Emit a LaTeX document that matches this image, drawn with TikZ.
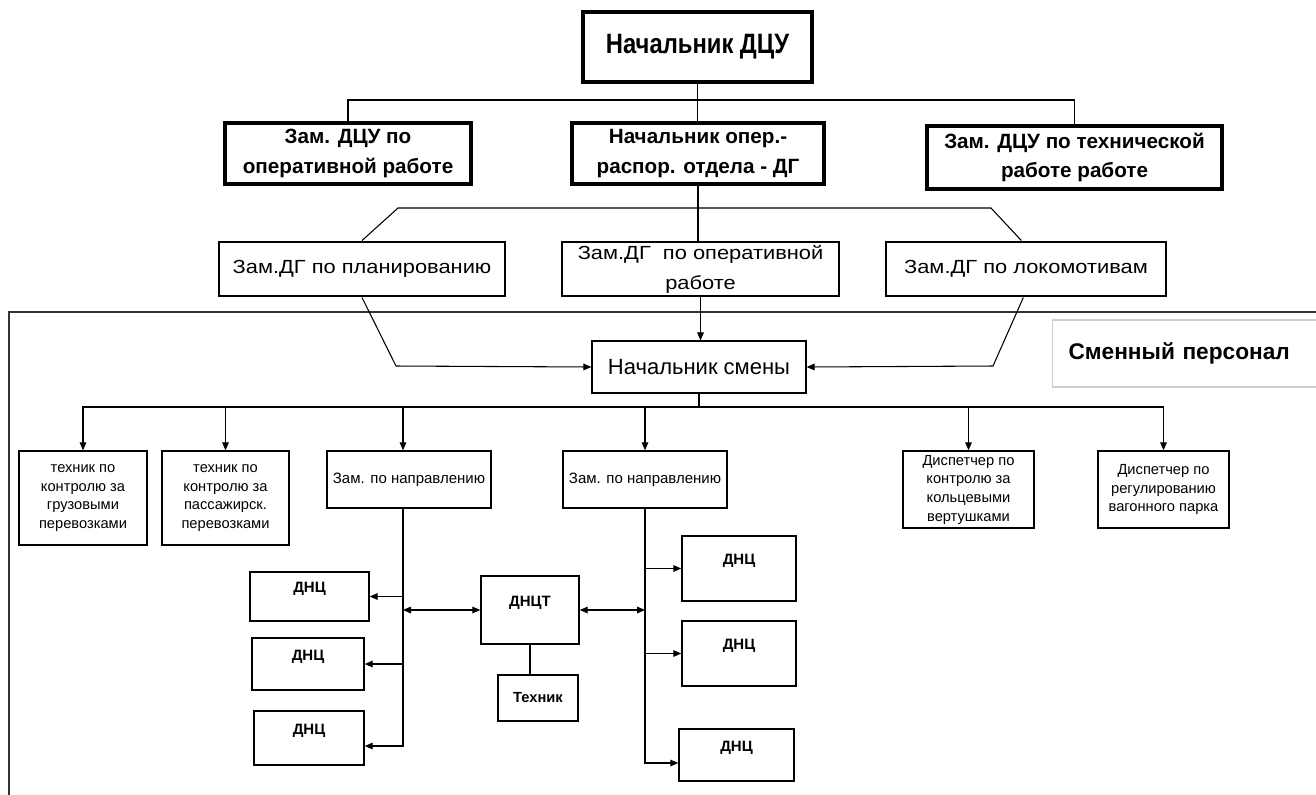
\documentclass[tikz,border=0pt]{standalone}
\usepackage{fontspec}
\setmainfont{Liberation Sans}
\newfontfamily\condf{Liberation Sans}[FakeStretch=0.85]
\newfontfamily\widef{Liberation Sans}[FakeStretch=1.15]
\usetikzlibrary{arrows.meta}
\newcommand\obox[7]{\node[#1, minimum width={(#5-#3)*0.75pt}, minimum height={(#6-#4)*0.75pt}] (#2) at ({(#3+#5)/2},{(#4+#6)/2}) {#7};}
\tikzset{
  base/.style={draw, fill=white, align=center, inner sep=1pt},
  heavy/.style={base, line width=3pt},
  medbox/.style={base, line width=2.2pt},
  thinbox/.style={base, line width=0.9pt},
  lowbox/.style={base, line width=1.1pt},
  conn/.style={line width=0.8pt},
  arr/.style={conn, -{Triangle[length=6pt,width=5pt]}},
  darr/.style={conn, {Triangle[length=6pt,width=5pt]}-{Triangle[length=6pt,width=5pt]}},
  toptxt/.style={font={\condf\bfseries\fontsize{21pt}{24pt}\selectfont}},
  rowtxt/.style={font={\bfseries\fontsize{15.5pt}{22pt}\selectfont}},
  dgtxt/.style={font={\widef\fontsize{14.25pt}{22.5pt}\selectfont}},
  nstxt/.style={font={\fontsize{16.5pt}{20pt}\selectfont}},
  smalltxt/.style={font={\fontsize{11pt}{14pt}\selectfont}},
  zntxt/.style={font={\fontsize{11.25pt}{14pt}\selectfont}},
  dnctxt/.style={font={\bfseries\fontsize{11.25pt}{14pt}\selectfont}, text height=7.5pt, text depth=13.5pt, inner sep=0pt},
}
\begin{document}
\begin{tikzpicture}[x=0.75pt,y=-0.75pt]
\useasboundingbox (0,0) rectangle (1316,794);
% frame of the shift staff area
\draw[line width=1.1pt, black!80] (9,800) -- (9,312) -- (1325,312);
% label box
\node[draw=black!20, line width=0.8pt, fill=white, minimum height={67*0.75pt}, inner xsep=12pt, text width=184.5pt, align=left, anchor=west, font={\bfseries\fontsize{17pt}{20pt}\selectfont}] (sp) at (1052,353.5) {Сменный персонал};

% top levels
\obox{heavy,toptxt}{top}{583}{12}{812}{82}{Начальник ДЦУ}
\obox{heavy,rowtxt}{zam1}{225}{123}{471}{184}{Зам. ДЦУ по\\оперативной работе}
\obox{heavy,rowtxt}{nop}{572}{123}{824}{184}{Начальник опер.-\\распор. отдела - ДГ}
\obox{heavy,rowtxt}{zam2}{927}{126}{1222}{189}{Зам. ДЦУ по технической\\работе работе}

\obox{medbox,dgtxt}{dgp}{219}{242}{505}{296}{Зам.ДГ по планированию}
\obox{medbox,dgtxt}{dgo}{562}{242}{839}{296}{Зам.ДГ\ \ по оперативной\\работе}
\obox{medbox,dgtxt}{dgl}{886}{242}{1166}{296}{Зам.ДГ по локомотивам}

\obox{thinbox,nstxt}{ns}{592}{341}{806}{393}{Начальник смены}

\obox{lowbox,smalltxt}{t1}{19}{451}{147}{545}{техник по\\контролю за\\грузовыми\\перевозками}
\obox{lowbox,smalltxt}{t2}{162}{451}{289}{545}{техник по\\контролю за\\пассажирск.\\перевозками}
\obox{lowbox,zntxt}{zn1}{327}{451}{491}{508}{Зам. по направлению}
\obox{lowbox,zntxt}{zn2}{563}{451}{727}{508}{Зам. по направлению}
\obox{lowbox,smalltxt}{d1}{903}{451}{1034}{528}{Диспетчер по\\контролю за\\кольцевыми\\вертушками}
\obox{lowbox,smalltxt}{d2}{1098}{451}{1229}{528}{Диспетчер по\\регулированию\\вагонного парка}

\obox{lowbox,dnctxt}{L1}{250}{572}{369}{621}{ДНЦ}
\obox{lowbox,dnctxt}{L2}{252}{638}{364}{690}{ДНЦ}
\obox{lowbox,dnctxt}{L3}{254}{711}{364}{765}{ДНЦ}
\obox{lowbox,dnctxt}{R1}{682}{536}{796}{601}{ДНЦ}
\obox{lowbox,dnctxt}{R2}{682}{621}{796}{686}{ДНЦ}
\obox{lowbox,dnctxt}{R3}{679}{729}{794}{781}{ДНЦ}
\obox{lowbox,dnctxt}{dnct}{481}{576}{579}{644}{ДНЦТ}
\obox{lowbox,zntxt,font={\bfseries\fontsize{11pt}{14pt}\selectfont}}{teh}{498}{675}{578}{721}{Техник}

% coordinates of bends
\coordinate (bus1) at (698,100);
\coordinate (hl) at (398,208);
\coordinate (hr) at (991,208);
\coordinate (pl) at (396,366);
\coordinate (pr) at (993,366);
\coordinate (bus2) at (699,407);
\coordinate (zl) at (403,508);

% connectors
\draw[conn] (top.south) -- (top.south |- nop.north);
\draw[conn] (zam1.north) |- (bus1) -| (zam2.north);
\draw[conn] (nop.south) -- (nop.south |- dgo.north);
\draw[conn] (dgp.north) -- (hl) -- (hr) -- ([xshift=-3.5pt]dgl.north);
\draw[arr] (dgp.south) -- (pl) -- (ns.west);
\draw[arr] ([xshift=-2pt]dgl.south) -- (pr) -- (ns.east);
\draw[arr] (dgo.south) -- (dgo.south |- ns.north);

\draw[conn] (ns.south) -- (bus2);
\draw[arr] (bus2) -| (t1.north);
\draw[arr] (bus2) -| (t2.north);
\draw[arr] (bus2) -| ([xshift=-4.5pt]zn1.north);
\draw[arr] (bus2) -| (zn2.north);
\draw[arr] (bus2) -| (d1.north);
\draw[arr] (bus2) -| (d2.north);

\draw[arr] (zl) |- (L1.east);
\draw[arr] (zl) |- (L2.east);
\draw[arr] (zl) |- ([yshift=-6pt]L3.east);
\draw[arr] (zn2.south) |- (R1.west);
\draw[arr] (zn2.south) |- (R2.west);
\draw[arr] (zn2.south) |- ([yshift=-6pt]R3.west);

\draw[darr] (dnct.west -| zl) -- (dnct.west);
\draw[darr] (dnct.east) -- (dnct.east -| zn2.south);
\draw[conn] (dnct.south) -- (dnct.south |- teh.north);
\end{tikzpicture}
\end{document}
